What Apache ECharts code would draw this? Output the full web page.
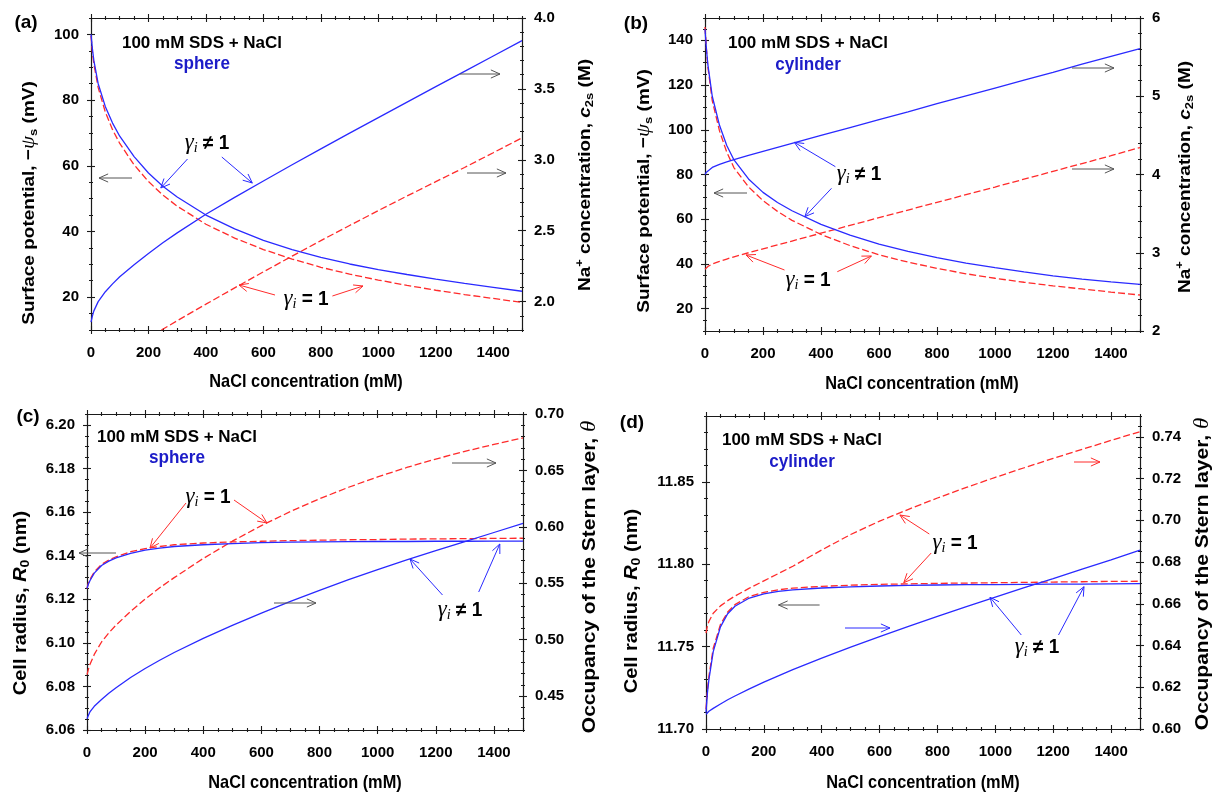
<!DOCTYPE html>
<html><head><meta charset="utf-8">
<script src="https://cdn.jsdelivr.net/npm/echarts@6/dist/echarts.min.js"></script>
<style>html,body{margin:0;padding:0;background:#fff}#c{width:1215px;height:794px}</style>
</head><body><div id="c"></div>
<script>
// ---------------- DATA ----------------
const NaCl = [0,5,10,25,50,75,100,150,200,250,300,400,500,600,700,800,900,1000,1100,1200,1300,1400,1500];
const xTicks = [0,200,400,600,800,1000,1200,1400];

// (a) sphere: surface potential (mV, left) and Na+ conc c2s (M, right)
const a_psi_gNe1 = [100,95.5,92,85,78,73,69,62.8,57.8,53.8,50.5,45,40.8,37.3,34.5,32.1,30.1,28.4,26.9,25.5,24.2,23,21.8];
const a_psi_g1   = [99.5,94.5,91,83.8,76.3,71,66.8,60.3,55.2,51.1,47.7,42.2,38,34.5,31.6,29.1,27,25.2,23.6,22.1,20.8,19.6,18.4];
const a_c2s_gNe1 = [1.855,1.90,1.935,2.00,2.07,2.125,2.175,2.26,2.34,2.415,2.485,2.616,2.735,2.851,2.965,3.077,3.188,3.298,3.407,3.516,3.624,3.732,3.84];
const a_c2s_g1_x = [245,300,400,500,600,700,800,900,1000,1100,1200,1300,1400,1500];
const a_c2s_g1   = [1.80,1.865,1.982,2.097,2.21,2.321,2.43,2.537,2.642,2.745,2.846,2.946,3.05,3.155];
const a_leftTicks  = [20,40,60,80,100];
const a_rightTicks = [2.0,2.5,3.0,3.5,4.0];

// (b) cylinder
const b_psi_gNe1 = [145,136,129,115,102,93,86.5,78,72,67.5,63.8,57.7,52.9,48.9,45.6,42.8,40.4,38.3,36.4,34.7,33.2,32,30.9];
const b_psi_g1   = [146,136,128,113,99.5,90,83,74.5,68.3,63.5,59.5,53.2,48.2,44.1,40.8,38,35.6,33.6,31.8,30.2,28.8,27.4,26.1];
const b_c2s_gNe1 = [4.00,4.03,4.05,4.09,4.13,4.16,4.19,4.245,4.297,4.348,4.399,4.50,4.60,4.70,4.80,4.905,5.005,5.105,5.205,5.305,5.41,5.51,5.61];
const b_c2s_g1   = [2.79,2.81,2.825,2.855,2.89,2.92,2.948,3.0,3.05,3.10,3.15,3.25,3.35,3.448,3.546,3.644,3.742,3.84,3.94,4.04,4.14,4.24,4.345];
const b_leftTicks  = [20,40,60,80,100,120,140];
const b_rightTicks = [2,3,4,5,6];

// (c) sphere: cell radius R0 (nm, left) and Stern occupancy theta (right)
const c_R0_gNe1 = [6.125,6.127,6.1285,6.132,6.1355,6.1375,6.139,6.141,6.1425,6.1435,6.1442,6.145,6.1455,6.146,6.1462,6.1463,6.1464,6.1465,6.1465,6.1466,6.1466,6.1467,6.1467];
const c_R0_g1   = [6.125,6.1275,6.129,6.1325,6.136,6.138,6.1395,6.1418,6.1432,6.1442,6.145,6.1458,6.1463,6.1466,6.1469,6.1471,6.1473,6.1474,6.1476,6.1477,6.1478,6.1479,6.148];
const c_th_gNe1 = [0.430,0.433,0.436,0.441,0.447,0.4525,0.4575,0.4665,0.4745,0.4818,0.4887,0.5012,0.5127,0.5236,0.534,0.5438,0.5532,0.5622,0.5708,0.579,0.587,0.595,0.603];
const c_th_g1   = [0.469,0.474,0.478,0.487,0.498,0.506,0.513,0.525,0.536,0.546,0.555,0.572,0.5873,0.6011,0.6136,0.6249,0.6351,0.6443,0.6526,0.6601,0.6669,0.6731,0.6788];
const c_leftTicks  = [6.06,6.08,6.10,6.12,6.14,6.16,6.18,6.20];
const c_rightTicks = [0.45,0.50,0.55,0.60,0.65,0.70];

// (d) cylinder
const d_R0_gNe1 = [11.710,11.722,11.730,11.747,11.762,11.770,11.7745,11.7795,11.782,11.7835,11.7845,11.7856,11.7863,11.7868,11.7872,11.7874,11.7876,11.7877,11.7878,11.7879,11.788,11.7881,11.7882];
const d_R0_g1   = [11.712,11.724,11.732,11.749,11.7635,11.771,11.7755,11.7805,11.783,11.7845,11.7855,11.7866,11.7873,11.7878,11.7881,11.7884,11.7886,11.7888,11.789,11.7892,11.7894,11.7896,11.7897];
const d_th_gNe1 = [0.607,0.6078,0.6085,0.6099,0.612,0.614,0.6158,0.6192,0.6225,0.6255,0.6285,0.634,0.6392,0.6443,0.6492,0.654,0.6587,0.6632,0.6677,0.6721,0.6766,0.6811,0.6857];
const d_th_g1   = [0.646,0.6495,0.6515,0.6555,0.659,0.6615,0.6637,0.6675,0.671,0.6745,0.678,0.6858,0.6932,0.6996,0.7053,0.7107,0.7158,0.7206,0.7252,0.7297,0.734,0.7383,0.7425];
const d_leftTicks  = [11.70,11.75,11.80,11.85];
const d_rightTicks = [0.60,0.62,0.64,0.66,0.68,0.70,0.72,0.74];

// ---------------- STYLE / LAYOUT ----------------
const FONT = 'Liberation Sans';
const SERIF = 'Liberation Serif';
const BLUE = '#2a2aff', RED = '#ff2b2b', GRAY = '#555555', AXIS = '#1a1a1a';

function pair(xs, ys){ return xs.map((x,i)=>[x, ys[i]]); }
function minorVals(min, max, step, major){
  const out = []; const n = Math.round((max-min)/step);
  for (let k=0;k<=n;k++){ const v = +(min + k*step).toFixed(6);
    if (!major.some(m=>Math.abs(m-v)<step*0.01)) out.push(v); }
  return out;
}

const panels = [
  {grid:{left:91,top:18,width:431,height:312},
   yl:{min:10,max:105,major:a_leftTicks,mstart:10,step:5,fmt:v=>String(v)},
   yr:{min:1.8,max:4.0,major:a_rightTicks,mstart:1.8,step:0.1,fmt:v=>v.toFixed(1)},
   series:[
     {d:pair(NaCl,a_psi_gNe1),side:'l',c:BLUE,dash:false},
     {d:pair(NaCl,a_psi_g1),side:'l',c:RED,dash:true},
     {d:pair(NaCl,a_c2s_gNe1),side:'r',c:BLUE,dash:false},
     {d:pair(a_c2s_g1_x,a_c2s_g1),side:'r',c:RED,dash:true}]},
  {grid:{left:705,top:18,width:435,height:313},
   yl:{min:10,max:150,major:b_leftTicks,mstart:10,step:5,fmt:v=>String(v)},
   yr:{min:2,max:6,major:b_rightTicks,mstart:2,step:0.2,fmt:v=>String(v)},
   series:[
     {d:pair(NaCl,b_psi_gNe1),side:'l',c:BLUE,dash:false},
     {d:pair(NaCl,b_psi_g1),side:'l',c:RED,dash:true},
     {d:pair(NaCl,b_c2s_gNe1),side:'r',c:BLUE,dash:false},
     {d:pair(NaCl,b_c2s_g1),side:'r',c:RED,dash:true}]},
  {grid:{left:87,top:414,width:436,height:316},
   yl:{min:6.06,max:6.205,major:c_leftTicks,mstart:6.06,step:0.005,fmt:v=>v.toFixed(2)},
   yr:{min:0.42,max:0.70,major:c_rightTicks,mstart:0.42,step:0.01,fmt:v=>v.toFixed(2)},
   series:[
     {d:pair(NaCl,c_R0_gNe1),side:'l',c:BLUE,dash:false},
     {d:pair(NaCl,c_R0_g1),side:'l',c:RED,dash:true},
     {d:pair(NaCl,c_th_gNe1),side:'r',c:BLUE,dash:false},
     {d:pair(NaCl,c_th_g1),side:'r',c:RED,dash:true}]},
  {grid:{left:706,top:416,width:434,height:313},
   yl:{min:11.70,max:11.89,major:d_leftTicks,mstart:11.70,step:0.01,fmt:v=>v.toFixed(2)},
   yr:{min:0.60,max:0.75,major:d_rightTicks,mstart:0.60,step:0.005,fmt:v=>v.toFixed(2)},
   series:[
     {d:pair(NaCl,d_R0_gNe1),side:'l',c:BLUE,dash:false},
     {d:pair(NaCl,d_R0_g1),side:'l',c:RED,dash:true},
     {d:pair(NaCl,d_th_gNe1),side:'r',c:BLUE,dash:false},
     {d:pair(NaCl,d_th_g1),side:'r',c:RED,dash:true}]}
];

const grids = [], xAxes = [], yAxes = [], series = [];

function sideAxes(gi, pos, min, max, major, minor, labels, fmt, margin){
  const base = {type:'value', gridIndex:gi, position:pos, min:min, max:max,
    splitLine:{show:false}, minorTick:{show:false}, minorSplitLine:{show:false}, silent:true};
  const tickStyle = {color:AXIS, width:1.1};
  const mk = (line, vals, inside, len, lab) => Object.assign({}, base, {
    axisLine:{show:line, onZero:false, lineStyle:{color:AXIS, width:1.2}},
    axisTick:{show:true, inside:inside, length:len, customValues:vals, lineStyle:tickStyle},
    axisLabel: lab ? {show:true, customValues:major, formatter:fmt, margin:margin, color:'#000',
      fontFamily:FONT, fontWeight:'bold', fontSize:15} : {show:false}
  });
  return [mk(true, major, false, 4, labels), mk(false, major, true, 4, false),
          mk(false, minor, false, 2, false), mk(false, minor, true, 2, false)];
}

panels.forEach((p, gi) => {
  grids.push(Object.assign({outerBoundsMode:'none', containLabel:false}, p.grid));
  const xMinor = minorVals(0, 1500, 50, xTicks);
  const xb = xAxes.length;
  xAxes.push(...sideAxes(gi,'bottom',0,1500,xTicks,xMinor,true,v=>String(v),15));
  xAxes.push(...sideAxes(gi,'top',0,1500,xTicks,xMinor,false,null,0));
  const yl = yAxes.length;
  yAxes.push(...sideAxes(gi,'left',p.yl.min,p.yl.max,p.yl.major,
     minorVals(p.yl.mstart,p.yl.max,p.yl.step,p.yl.major),true,p.yl.fmt,12));
  const yr = yAxes.length;
  yAxes.push(...sideAxes(gi,'right',p.yr.min,p.yr.max,p.yr.major,
     minorVals(p.yr.mstart,p.yr.max,p.yr.step,p.yr.major),true,p.yr.fmt,12));
  p.series.forEach(s => series.push({
    type:'line', xAxisIndex:xb, yAxisIndex: s.side==='l'?yl:yr, data:s.d,
    symbol:'none', showSymbol:false, smooth:false, silent:true, clip:true,
    lineStyle:{color:s.c, width:1.3, type: s.dash ? [7,3] : 'solid'}, z: s.dash?3:4
  }));
});

// ---------------- ANNOTATIONS ----------------
const graphics = [];
function txt(x,y,text,opts){
  opts = opts || {};
  graphics.push({type:'text', x:x, y:y, rotation:opts.rot||0, scaleX:opts.sx||1, scaleY:opts.sy||1,
    silent:true, z:50,
    style:Object.assign({text:text, align:'center', verticalAlign:'middle', fill:'#000',
      fontFamily:FONT, fontWeight:'bold', fontSize:17}, opts.style||{})});
}
function makeTitleRich(fs){
  return {
    it:{fontFamily:FONT, fontStyle:'italic', fontWeight:'bold', fontSize:fs, lineHeight:fs+5, fill:'#000'},
    gr:{fontFamily:SERIF, fontStyle:'italic', fontSize:fs+2, lineHeight:fs+5, fill:'#000'},
    sub:{fontFamily:FONT, fontWeight:'bold', fontSize:Math.round(fs*0.7), lineHeight:Math.round(fs*0.7), verticalAlign:'bottom', fill:'#000'},
    sup:{fontFamily:FONT, fontWeight:'bold', fontSize:Math.round(fs*0.7), lineHeight:Math.round(fs*0.7), verticalAlign:'top', fill:'#000'}
  };
}
function vtitle(x,y,text,fs){ txt(x,y,text,{rot:Math.PI/2, sy:0.9, style:{rich:makeTitleRich(fs), fontSize:fs, lineHeight:fs+5}}); }
const gammaRich = {
  g:{fontFamily:SERIF, fontStyle:'italic', fontSize:24, lineHeight:26, fill:'#000'},
  s:{fontFamily:SERIF, fontStyle:'italic', fontSize:15, lineHeight:14, verticalAlign:'bottom', fill:'#000'},
  t:{fontFamily:FONT, fontWeight:'bold', fontSize:20, lineHeight:26, fill:'#000'}
};
function gamma(x,y,eq){ txt(x,y,'{g|γ}{s|i}{t| '+(eq?'= 1':'≠ 1')+'}',{sx:0.95, style:{rich:gammaRich}}); }
function arrow(x1,y1,x2,y2,color){
  const a = Math.atan2(y1-y2, x1-x2), L = 10, h = 0.42;
  const p1 = [x2 + L*Math.cos(a+h), y2 + L*Math.sin(a+h)];
  const p2 = [x2 + L*Math.cos(a-h), y2 + L*Math.sin(a-h)];
  graphics.push({type:'line', silent:true, z:40, shape:{x1:x1,y1:y1,x2:x2,y2:y2}, style:{stroke:color, lineWidth:1}});
  graphics.push({type:'polyline', silent:true, z:40, shape:{points:[p1,[x2,y2],p2]}, style:{stroke:color, lineWidth:1, fill:null}});
}

// panel letters
txt(26,23,'(a)',{style:{fontSize:19}}); txt(636,24,'(b)',{style:{fontSize:19}});
txt(28,417,'(c)',{style:{fontSize:19}}); txt(632,423,'(d)',{style:{fontSize:19}});
// inset labels
const inset = '100 mM SDS + NaCl';
txt(202,43,inset,{style:{fontSize:17}}); txt(202,64,'sphere',{style:{fontSize:19,fill:'#1c1cc8'}, sx:0.9});
txt(808,43,inset,{style:{fontSize:17}}); txt(808,65,'cylinder',{style:{fontSize:19,fill:'#1c1cc8'}, sx:0.9});
txt(177,437,inset,{style:{fontSize:17}}); txt(177,458,'sphere',{style:{fontSize:19,fill:'#1c1cc8'}, sx:0.9});
txt(802,440,inset,{style:{fontSize:17}}); txt(802,462,'cylinder',{style:{fontSize:19,fill:'#1c1cc8'}, sx:0.9});
// axis titles
const xTitle = 'NaCl concentration (mM)';
const xt = {sx:0.86, style:{fontSize:19}};
txt(306,382,xTitle,xt); txt(922,384,xTitle,xt); txt(305,783,xTitle,xt); txt(923,783,xTitle,xt);
vtitle(29,203,'Surface potential, −{gr|ψ}{sub|s} (mV)',19);
vtitle(585,175,'Na{sup|+} concentration, {it|c}{sub|2s} (M)',19);
vtitle(644,191,'Surface potential, −{gr|ψ}{sub|s} (mV)',19);
vtitle(1185,177,'Na{sup|+} concentration, {it|c}{sub|2s} (M)',19);
vtitle(21,603,'Cell radius, {it|R}{sub|0} (nm)',20);
vtitle(590,577,'Occupancy of the Stern layer, {gr|θ}',21);
vtitle(632,601,'Cell radius, {it|R}{sub|0} (nm)',20);
vtitle(1203,574,'Occupancy of the Stern layer, {gr|θ}',21);
// gamma labels
gamma(207,143,false); gamma(306,299,true);
gamma(859,174,false); gamma(808,280,true);
gamma(208,497,true); gamma(460,610,false);
gamma(955,543,true); gamma(1037,647,false);
// arrows (a)
arrow(132,178,99,178,GRAY); arrow(460,74,500,74,GRAY); arrow(467,173,506,173,GRAY);
arrow(187.5,159,160.8,188,BLUE); arrow(221.8,157,252.3,183,BLUE);
arrow(275,295,239,285,RED); arrow(332.4,296,363,286,RED);
// arrows (b)
arrow(1072,68,1114,68,GRAY); arrow(1072,169,1114,169,GRAY); arrow(747,193,714,193,GRAY);
arrow(835.4,166.7,794.3,142.3,BLUE); arrow(831.5,188.3,804.8,216.7,BLUE);
arrow(784.5,270,746,255,RED); arrow(837.3,271.7,871.4,256,RED);
// arrows (c)
arrow(116,553,79,553,GRAY); arrow(452,463,496,463,GRAY); arrow(274,603,316,603,GRAY);
arrow(186,503,150,548,RED); arrow(234,500,267,523,RED);
arrow(442.5,595,410,559,BLUE); arrow(478.7,592,499.8,544,BLUE);
// arrows (d)
arrow(1074,462,1100,462,RED); arrow(819.6,605,778.5,605,GRAY); arrow(845,628,890,628,BLUE);
arrow(929.3,534,899.9,515,RED); arrow(931.2,553,903.8,582.7,RED);
arrow(1021.3,635,990,597.3,BLUE); arrow(1058.5,635,1084,586.7,BLUE);

const chart = echarts.init(document.getElementById('c'), null, {renderer:'canvas'});
chart.setOption({
  animation:false, backgroundColor:'#fff',
  grid:grids, xAxis:xAxes, yAxis:yAxes, series:series, graphic:graphics
});
</script></body></html>
